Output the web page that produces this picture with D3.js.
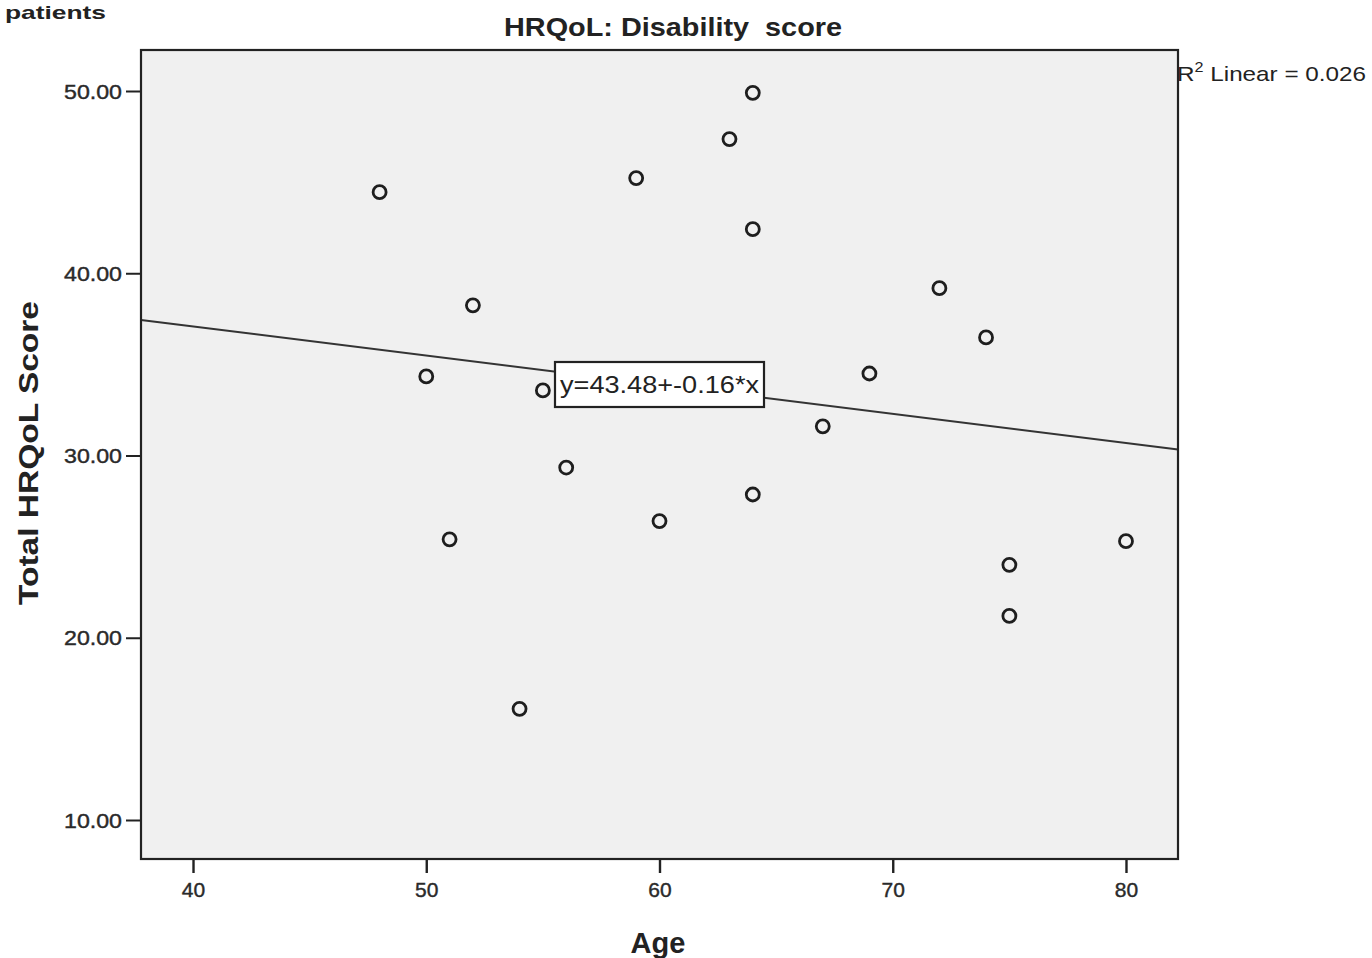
<!DOCTYPE html>
<html><head><meta charset="utf-8">
<script src="https://cdn.jsdelivr.net/npm/d3@7"></script>
<style>body{margin:0;background:#fff}svg{display:block}text{font-family:"Liberation Sans",Arial,sans-serif}</style>
</head><body><svg id="c" width="1372" height="958"></svg>
<script>
const ages   = [48, 50, 51, 52, 54, 55, 56, 59, 60, 63, 64, 64, 64, 67, 69, 72, 74, 75, 75, 80];
const scores = [44.45, 34.34, 25.4, 38.24, 16.1, 33.57, 29.34, 45.22, 26.4, 47.36, 49.9, 42.42, 27.86, 31.6, 34.5, 39.18, 36.48, 24.0, 21.2, 25.3];
const xTicks = [40, 50, 60, 70, 80];
const yTicks = [10, 20, 30, 40, 50];
const fitIntercept = 43.48, fitSlope = -0.16;
const fitLabel = "y=43.48+-0.16*x";
const r2Label = "0.026";

const svg = d3.select("#c");
const L = 141, R = 1178, T = 50, B = 859;
const x = d3.scaleLinear().domain([37.77, 82.23]).range([L, R]);
const y = d3.scaleLinear().domain([7.86, 52.25]).range([B, T]);

svg.append("text").attr("x", 5).attr("y", 19).attr("font-size", 19).attr("font-weight", "bold").attr("fill", "#222")
  .attr("textLength", 101).attr("lengthAdjust", "spacingAndGlyphs").text("patients");

svg.append("rect").attr("x", L).attr("y", T).attr("width", R - L).attr("height", B - T).attr("fill", "#f0f0f0");

svg.append("text").attr("x", 673).attr("y", 36).attr("text-anchor", "middle").attr("font-size", 25).attr("font-weight", "bold").attr("fill", "#222")
  .style("white-space", "pre").attr("textLength", 338).attr("lengthAdjust", "spacingAndGlyphs").text("HRQoL: Disability  score");

// regression line
const xd = x.domain();
svg.append("line").attr("x1", x(xd[0])).attr("y1", y(fitIntercept + fitSlope * xd[0]))
  .attr("x2", x(xd[1])).attr("y2", y(fitIntercept + fitSlope * xd[1])).attr("stroke", "#333").attr("stroke-width", 2);

// points
svg.append("g").selectAll("circle").data(ages).join("circle")
  .attr("cx", (d) => x(d)).attr("cy", (d, i) => y(scores[i])).attr("r", 6.5)
  .attr("fill", "none").attr("stroke", "#1e1e1e").attr("stroke-width", 2.8);

// axes
const yAxis = d3.axisLeft(y).tickValues(yTicks).tickFormat(d3.format(".2f")).tickSize(15).tickSizeOuter(0);
const gy = svg.append("g").attr("transform", `translate(${L},0)`).call(yAxis);
gy.select(".domain").remove();
gy.selectAll(".tick line").attr("stroke", "#222").attr("stroke-width", 2);
gy.selectAll(".tick text").attr("font-size", 20).attr("fill", "#2a2a2a").attr("x", -19).attr("dy", "0.36em")
  .attr("font-family", "Liberation Sans").attr("stroke", "#2a2a2a").attr("stroke-width", 0.4)
  .attr("textLength", 58).attr("lengthAdjust", "spacingAndGlyphs");

const xAxis = d3.axisBottom(x).tickValues(xTicks).tickSize(14).tickSizeOuter(0);
const gx = svg.append("g").attr("transform", `translate(0,${B})`).call(xAxis);
gx.select(".domain").remove();
gx.selectAll(".tick line").attr("stroke", "#222").attr("stroke-width", 2.4);
gx.selectAll(".tick text").attr("font-size", 21).attr("fill", "#2a2a2a").attr("y", 38).attr("dy", 0)
  .attr("font-family", "Liberation Sans").attr("stroke", "#2a2a2a").attr("stroke-width", 0.4);

// frame
svg.append("rect").attr("x", L).attr("y", T).attr("width", R - L).attr("height", B - T).attr("fill", "none").attr("stroke", "#222").attr("stroke-width", 2.2);

// fit label box
const bx = 555, by = 362, bw = 209, bh = 45;
svg.append("rect").attr("x", bx).attr("y", by).attr("width", bw).attr("height", bh).attr("fill", "#fff").attr("stroke", "#222").attr("stroke-width", 2.2);
svg.append("text").attr("x", bx + 5).attr("y", by + 31).attr("font-size", 23).attr("fill", "#222")
  .attr("textLength", 199).attr("lengthAdjust", "spacingAndGlyphs").text(fitLabel);

// R2 label
const r2 = svg.append("text").attr("x", 1177).attr("y", 81).attr("font-size", 21).attr("fill", "#222")
  .attr("textLength", 189).attr("lengthAdjust", "spacingAndGlyphs");
r2.append("tspan").text("R");
r2.append("tspan").attr("dy", -9).attr("font-size", 14).text("2");
r2.append("tspan").attr("dy", 9).text(" Linear = " + r2Label);

// axis titles
svg.append("text").attr("x", 658).attr("y", 953).attr("text-anchor", "middle").attr("font-size", 29).attr("font-weight", "bold").attr("fill", "#222").text("Age");
svg.append("text").attr("transform", "translate(38,453) rotate(-90)").attr("text-anchor", "middle").attr("font-size", 28).attr("font-weight", "bold").attr("fill", "#222")
  .attr("textLength", 304).attr("lengthAdjust", "spacingAndGlyphs").text("Total HRQoL Score");
</script></body></html>
